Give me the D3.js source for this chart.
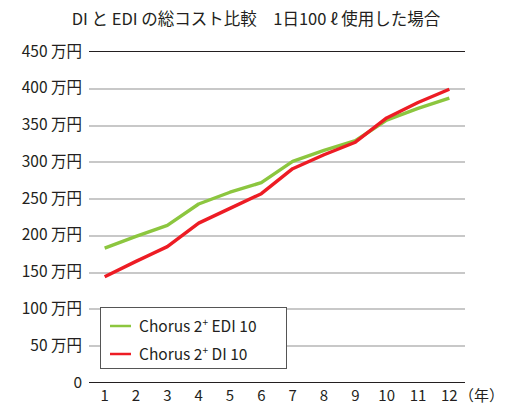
<!DOCTYPE html>
<html><head><meta charset="utf-8">
<script src="https://cdn.jsdelivr.net/npm/d3@7"></script>
<style>body{margin:0;background:#fff}svg{display:block}text{font-family:"Noto Sans CJK JP","Noto Sans",sans-serif;fill:#231f20}</style>
</head><body><svg id="c" width="515" height="405"></svg>
<script>
const years = [1,2,3,4,5,6,7,8,9,10,11,12];
const edi = [182,198,213,242,258,271,300,315,328,356,372,386];
const di = [143,164,184,216,236,256,290,309,326,359,380,398];
const yTicks = [0,50,100,150,200,250,300,350,400,450];
const seriesNames = ["Chorus 2", "Chorus 2"];
const title = "DI と EDI の総コスト比較　1日100 ℓ 使用した場合";

const svg = d3.select("#c");
const L = 89, R = 465, T = 51, B = 382;
const x = d3.scaleBand().domain(years).range([L, R]);
const y = d3.scaleLinear().domain([0, 450]).range([B, T]);

svg.append("text").attr("x", 256).attr("y", 25).attr("text-anchor", "middle")
  .attr("font-size", 16.5).text(title);

// grid
svg.append("g").attr("shape-rendering", "crispEdges").selectAll("line").data(yTicks).join("line")
  .attr("x1", L).attr("x2", R).attr("y1", d => Math.round(y(d)) + 0.5).attr("y2", d => Math.round(y(d)) + 0.5)
  .attr("stroke", d => (d === 0 || d === 450) ? "#231f20" : "#c8c8c8")
  .attr("stroke-width", d => (d === 0 || d === 450) ? 1 : 2);

svg.append("g").selectAll("text").data(yTicks).join("text")
  .attr("x", 82).attr("y", d => y(d) + 5.5).attr("text-anchor", "end")
  .attr("font-size", 15.5).text(d => d === 0 ? "0" : d + " 万円");

svg.append("g").selectAll("text").data(years).join("text")
  .attr("x", d => x(d) + x.bandwidth() / 2).attr("y", 401).attr("text-anchor", "middle")
  .attr("font-size", 15).text(d => d);
svg.append("text").attr("x", 459).attr("y", 401).attr("font-size", 15).text("（年）");

const line = d3.line().x((d, i) => x(years[i]) + x.bandwidth() / 2).y(d => y(d));
svg.append("path").datum(edi).attr("d", line).attr("fill", "none")
  .attr("stroke", "#8cc63f").attr("stroke-width", 3.4).attr("stroke-linejoin", "round");
svg.append("path").datum(di).attr("d", line).attr("fill", "none")
  .attr("stroke", "#ed1c24").attr("stroke-width", 3.4).attr("stroke-linejoin", "round");

// legend
const lg = svg.append("g");
lg.append("rect").attr("x", 100.5).attr("y", 307.5).attr("width", 186).attr("height", 61)
  .attr("fill", "#fff").attr("stroke", "#555").attr("stroke-width", 1);
const items = [{c:"#8cc63f", s:" EDI 10"}, {c:"#ed1c24", s:" DI 10"}];
items.forEach((it, i) => {
  const yy = 326 + i * 28;
  lg.append("line").attr("x1", 110).attr("x2", 131).attr("y1", yy).attr("y2", yy)
    .attr("stroke", it.c).attr("stroke-width", 2.5);
  const t = lg.append("text").attr("x", 139).attr("y", yy + 5.5).attr("font-size", 15.5);
  t.append("tspan").text(seriesNames[i]);
  t.append("tspan").attr("font-size", 10).attr("dy", -6).text("+");
  t.append("tspan").attr("dy", 6).text(it.s);
});
</script></body></html>
